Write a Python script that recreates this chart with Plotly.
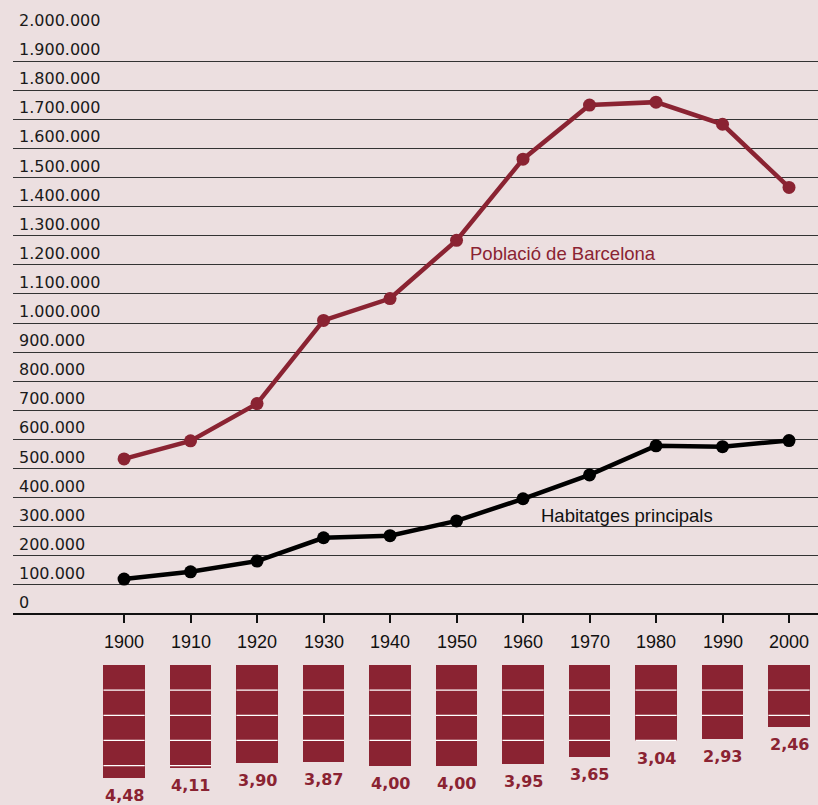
import plotly.graph_objects as go

years = [1900, 1910, 1920, 1930, 1940, 1950, 1960, 1970, 1980, 1990, 2000]
poblacio = [533000, 595000, 723000, 1009000, 1084000, 1284000, 1563000, 1749000, 1759000, 1683000, 1466000]
habitatges = [120000, 145000, 182000, 262000, 269000, 320000, 396000, 478000, 578000, 575000, 596000]
persones = [4.48, 4.11, 3.90, 3.87, 4.00, 4.00, 3.95, 3.65, 3.04, 2.93, 2.46]
persones_txt = ["4,48", "4,11", "3,90", "3,87", "4,00", "4,00", "3,95", "3,65", "3,04", "2,93", "2,46"]
yticks = list(range(0, 2000001, 100000))
ytick_txt = [f"{v:,}".replace(",", ".") for v in yticks]

MAROON = "#8a2332"
BG = "#ecdfe0"
FONT = "Liberation Sans"
NUMFONT = "DejaVu Sans"
W, H = 818, 805
BAR_W = 6.2

fig = go.Figure()
fig.add_trace(go.Scatter(x=years, y=poblacio, mode="lines+markers",
                         line=dict(color=MAROON, width=4.5),
                         marker=dict(color=MAROON, size=13),
                         xaxis="x", yaxis="y", showlegend=False, cliponaxis=False))
fig.add_trace(go.Scatter(x=years, y=habitatges, mode="lines+markers",
                         line=dict(color="#000000", width=4.5),
                         marker=dict(color="#000000", size=13),
                         xaxis="x", yaxis="y", showlegend=False, cliponaxis=False))
fig.add_trace(go.Bar(x=years, y=persones, width=BAR_W, marker=dict(color=MAROON, line=dict(width=0)),
                     xaxis="x2", yaxis="y2", showlegend=False, cliponaxis=False))

shapes = []
for yr, v in zip(years, persones):
    k = 1
    while k < v:
        shapes.append(dict(type="line", xref="x2", yref="y2", x0=yr - BAR_W / 2, x1=yr + BAR_W / 2,
                           y0=k, y1=k, line=dict(color="white", width=1.2), layer="above"))
        k += 1

annotations = []
for v, t in zip(yticks, ytick_txt):
    annotations.append(dict(x=0, xref="paper", y=v, yref="y", text=t, showarrow=False,
                            xanchor="left", yanchor="bottom", xshift=4, yshift=0,
                            font=dict(family=NUMFONT, size=16, color="#1a1a1a")))
for yr in years:
    annotations.append(dict(x=yr, xref="x", y=1 - 642 / H, yref="paper", text=str(yr), showarrow=False,
                            xanchor="center", yanchor="middle",
                            font=dict(family=FONT, size=18, color="#111111")))
for yr, v, t in zip(years, persones, persones_txt):
    annotations.append(dict(x=yr, xref="x2", y=v, yref="y2", text=t, showarrow=False,
                            xanchor="center", yanchor="top", yshift=-6,
                            font=dict(family=NUMFONT, size=16, color=MAROON, weight="bold")))
annotations.append(dict(x=1951.7, xref="x", y=1240000, yref="y", text="Població de Barcelona",
                        showarrow=False, xanchor="left", yanchor="middle",
                        font=dict(family=FONT, size=18.5, color=MAROON)))
annotations.append(dict(x=1962.4, xref="x", y=340000, yref="y", text="Habitatges principals",
                        showarrow=False, xanchor="left", yanchor="middle",
                        font=dict(family=FONT, size=18.5, color="#111111")))

xr = [1883.3, 2004.36]
fig.update_layout(
    width=W, height=H,
    margin=dict(l=13, r=0, t=0, b=0),
    paper_bgcolor=BG, plot_bgcolor=BG,
    xaxis=dict(range=xr, domain=[0, 1], anchor="y", tickvals=years, showticklabels=False,
               ticks="outside", ticklen=8, tickwidth=1.5, tickcolor="#111111",
               showgrid=False, zeroline=False, showline=False),
    yaxis=dict(range=[0, 2000000], domain=[1 - 614 / H, 1 - 32 / H], tickvals=yticks,
               showticklabels=False, showgrid=True, gridcolor="#333333", gridwidth=1,
               zeroline=True, zerolinecolor="#111111", zerolinewidth=2, showline=False),
    xaxis2=dict(range=xr, domain=[0, 1], anchor="y2", visible=False),
    yaxis2=dict(range=[140 / 25.15, 0], domain=[0, 1 - 665 / H], visible=False),
    shapes=shapes, annotations=annotations,
    bargap=0,
)
fig.write_html("out.html", config={"displayModeBar": False},
               post_script="document.body.style.margin='0';document.body.style.padding='0';document.body.style.overflow='hidden';document.body.style.background='" + BG + "';")
